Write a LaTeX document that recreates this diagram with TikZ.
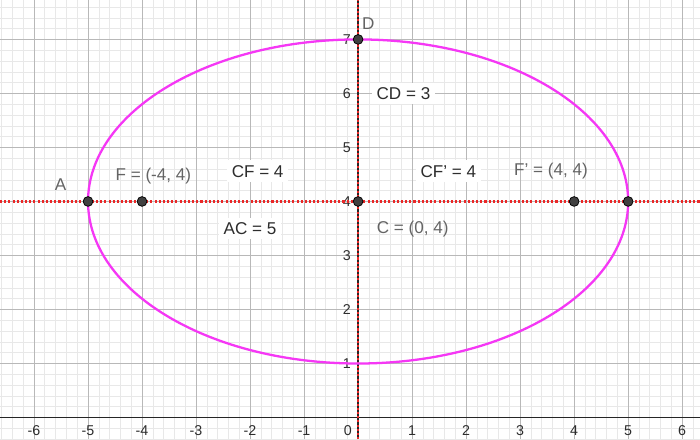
\documentclass[tikz,border=0pt]{standalone}
\usepackage{fontspec}
\setmainfont{Liberation Sans}
\usetikzlibrary{positioning,calc}
\definecolor{ellipse_magenta}{RGB}{245,55,245}
\definecolor{dot_red}{RGB}{235,40,40}
\definecolor{label_gray}{RGB}{100,100,100}
\definecolor{text_dark}{RGB}{45,45,45}

\begin{document}
\begin{tikzpicture}[x=1cm,y=1cm,
		minor_grid/.style={line width=0.35pt, black!9},
		major_grid/.style={line width=0.5pt, black!28},
		axis_line/.style={line width=0.8pt, black!85},
		red_dotted/.style={line width=1.2pt, dot_red, dash pattern=on 1.1pt off 1.1pt},
		ellipse_curve/.style={line width=1.2pt, ellipse_magenta},
		point_vertex/.style={circle,draw=black,fill=black!75,line width=0.4pt,inner sep=0pt,minimum size=1.8mm},
		tick_label/.style={text=text_dark, font=\fontsize{7.5}{9}\selectfont, inner sep=0pt},
		point_label/.style={text=label_gray, font=\fontsize{9}{11}\selectfont, inner sep=1pt},
		value_label/.style={text=text_dark, fill=white, font=\fontsize{9}{11}\selectfont, inner sep=2.5pt}
		]
		
		\useasboundingbox (-6.63,-0.40) rectangle (6.33,7.73);
		\fill[white] (-6.63,-0.40) rectangle (6.33,7.73);
		
		% grid and axes
		\draw[minor_grid, step=0.2] (-6.63,-0.40) grid (6.33,7.73);
		\draw[major_grid, step=1] (-6.63,-0.40) grid (6.33,7.73);
		\draw[axis_line] (-6.63,0) -- (6.33,0);
		\draw[axis_line] (0,-0.40) -- (0,7.73);
		
		\foreach \x in {-6,-5,-4,-3,-2,-1,1,2,3,4,5,6} \node[tick_label] at (\x,-0.24) {\x};
		\foreach \y in {1,...,7} \node[tick_label, anchor=east] at (-0.13,\y) {\y};
		\node[tick_label] at (-0.19,-0.24) {0};
		
		\coordinate (c) at (0,4);
		\coordinate (a) at (-5,4);
		\coordinate (b) at (5,4);
		\coordinate (f) at (-4,4);
		\coordinate (fp) at (4,4);
		\coordinate (d) at (0,7);
		
		% dotted lines through C
		\draw[red_dotted] (-6.63,4) -- (6.33,4);
		\draw[red_dotted] (0,-0.40) -- (0,7.73);
		
		\draw[ellipse_curve] (c) ellipse [x radius=5, y radius=3];
		
		% labels
		\node[point_label] (lbl_d) at (0.19,7.29) {D};
		\node[point_label] (lbl_a) at (-5.51,4.31) {A};
		\node[point_label] (lbl_f) at (-3.79,4.47) {F = (-4, 4)};
		\node[point_label] (lbl_fp) at (3.57,4.56) {F' = (4, 4)};
		\node[point_label] (lbl_c) at (1.01,3.49) {C = (0, 4)};
		\node[value_label] (lbl_cd) at (0.84,6.0) {CD = 3};
		\node[value_label] (lbl_cf) at (-1.86,4.56) {CF = 4};
		\node[value_label] (lbl_cfp) at (1.67,4.56) {CF' = 4};
		\node[value_label] (lbl_ac) at (-2.0,3.5) {AC = 5};
		
		\foreach \pt in {a, f, c, fp, b, d} \node[point_vertex] (pt_\pt) at (\pt) {};
	\end{tikzpicture}
\end{document}
